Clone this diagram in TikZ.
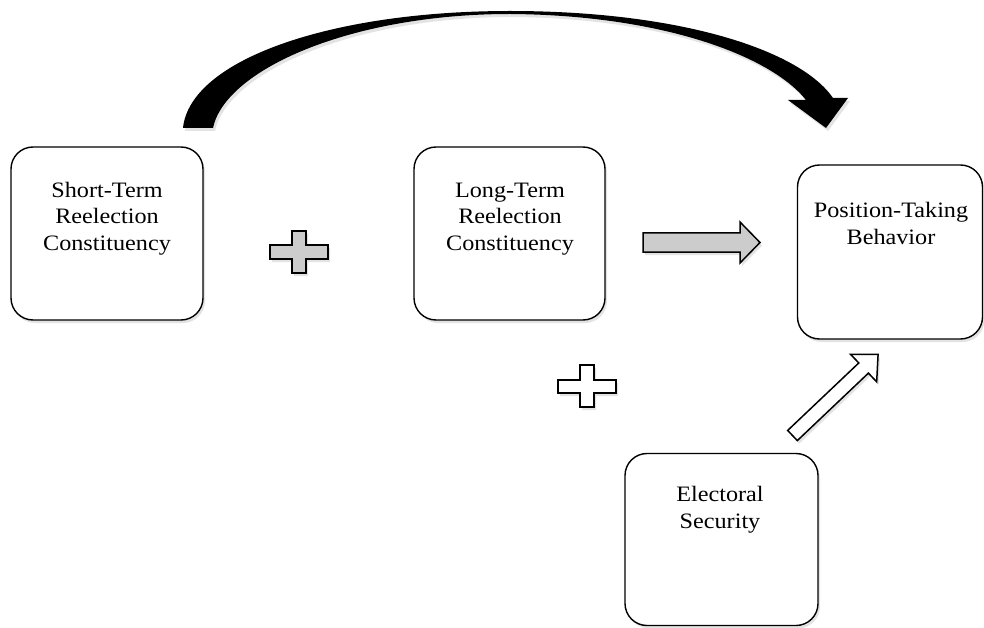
\documentclass[tikz,border=0pt]{standalone}
\usepackage{fontspec}
\setmainfont[FakeStretch=1.1]{Liberation Serif}
\usetikzlibrary{shadows}
\tikzset{
  softshadow/.style={drop shadow={shadow xshift=2pt, shadow yshift=-3pt, opacity=0.18, fill=black!60}},
  boxshape/.style={draw=black, line width=1.4pt, fill=white, rounded corners=22pt, softshadow},
  lbl/.style={align=center, inner sep=0pt, font=\fontsize{22}{26.5}\selectfont},
  grayfill/.style={draw=black, line width=1.5pt, fill=black!20, line join=miter, softshadow},
  whitefill/.style={draw=black, line width=1.5pt, fill=white, line join=miter, softshadow},
  curvefill/.style={fill=black, softshadow}
}
\begin{document}
\begin{tikzpicture}[x=1pt,y=-1pt]
\useasboundingbox (0,0) rectangle (984,628);

% boxes
\node[boxshape, minimum width=192pt, minimum height=173pt] (st) at (107,233.5) {};
\node[boxshape, minimum width=191pt, minimum height=173pt] (lt) at (509.5,233.5) {};
\node[boxshape, minimum width=185pt, minimum height=174pt] (pt) at (890,252) {};
\node[boxshape, minimum width=193pt, minimum height=172pt] (es) at (721.5,539.5) {};

% labels
\node[lbl] (stl) at (107,218.7) {\strut Short-Term\\\strut Reelection\\\strut Constituency};
\node[lbl] (ltl) at (510,218.7) {\strut Long-Term\\\strut Reelection\\\strut Constituency};
\node[lbl] (ptl) at (891,225.7) {\strut Position-Taking\\\strut Behavior};
\node[lbl] (esl) at (720,509.7) {\strut Electoral\\\strut Security};

% curved arrow from Short-Term to Position-Taking
\coordinate (ca1) at (183,128);
\coordinate (ca2) at (213,128);
\fill[curvefill] (ca1) .. controls (190,60) and (330,11) .. (510,11)
  .. controls (680,11) and (800,50) .. (833,98)
  -- (848,98) -- (826,128) -- (788,100) -- (806,100)
  .. controls (770,55) and (660,15) .. (510,14)
  .. controls (350,14) and (225,70) .. (ca2) -- cycle;

% gray plus
\draw[grayfill] (292,231) -- (306,231) -- (306,245) -- (328,245) -- (328,259) -- (306,259)
  -- (306,273) -- (292,273) -- (292,259) -- (270,259) -- (270,245) -- (292,245) -- cycle;

% white plus
\draw[whitefill] (580,365) -- (594,365) -- (594,380) -- (616,380) -- (616,393) -- (594,393)
  -- (594,407) -- (580,407) -- (580,393) -- (558,393) -- (558,380) -- (580,380) -- cycle;

% gray block arrow
\draw[grayfill] (643,233) -- (740,233) -- (740,222) -- (760,242.5) -- (740,263) -- (740,252)
  -- (643,252) -- cycle;

% white diagonal block arrow
\begin{scope}[shift={(792.5,435.5)}, rotate=43.5]
\draw[whitefill] (0,-7) -- (98,-7) -- (98,-19) -- (118,0) -- (98,19) -- (98,7) -- (0,7) -- cycle;
\end{scope}
\end{tikzpicture}
\end{document}
